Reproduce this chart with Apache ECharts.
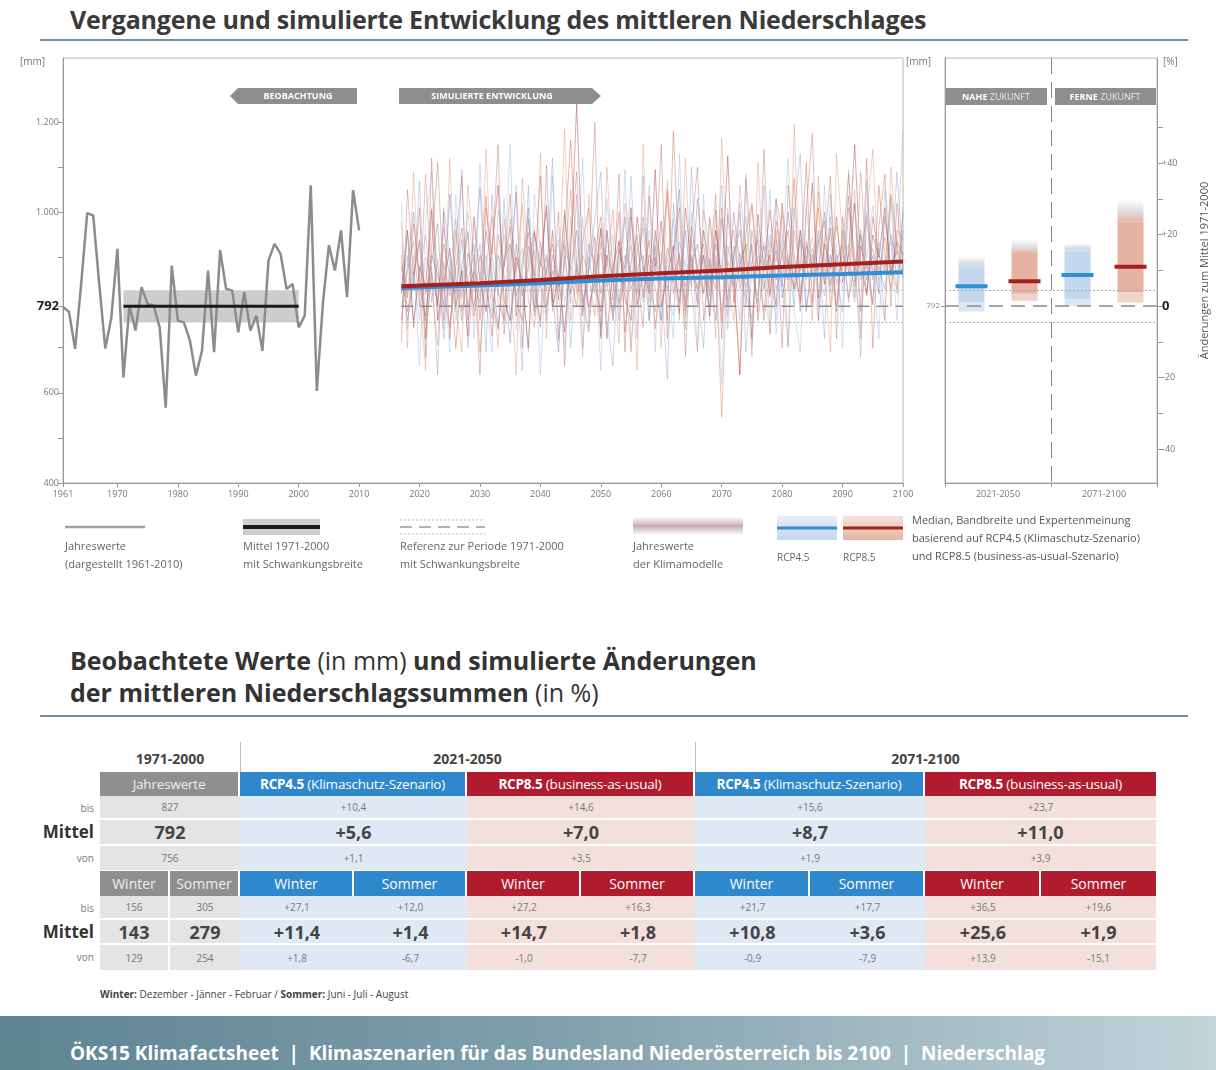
<!DOCTYPE html>
<html>
<head>
<meta charset="utf-8">
<script src="https://cdn.jsdelivr.net/npm/echarts@6/dist/echarts.min.js"></script>
<style>
  body{margin:0;width:1216px;height:1070px;position:relative;background:#fff;font-family:'Open Sans',Lato,sans-serif;color:#333;overflow:hidden}
  #chart{position:absolute;left:0;top:0;width:1216px;height:600px}
  .title1{position:absolute;left:70px;top:2px;font-size:25px;font-weight:bold;color:#3a3a3a;white-space:nowrap;letter-spacing:-0.2px}
  .rule{position:absolute;left:40px;width:1148px;height:2px;background:#71909f}
  .title2{position:absolute;left:70px;top:644px;font-size:25px;line-height:32px;font-weight:bold;color:#333;white-space:nowrap}
  .title2 span{font-weight:normal}
  .cell{position:absolute;display:flex;align-items:center;justify-content:center;box-sizing:border-box;white-space:nowrap}
  .lab{position:absolute;text-align:right;width:70px;left:24px;white-space:nowrap}
  .note{position:absolute;left:100px;top:987px;font-size:10px;color:#444}
  .footer{position:absolute;left:0;top:1016px;width:1216px;height:54px;background:linear-gradient(90deg,#5e8494 0%,#7f9fac 45%,#a9c0c9 80%,#c3d4da 100%)}
  .footer div{position:absolute;left:70px;top:24px;font-size:19px;font-weight:bold;color:#fff;white-space:nowrap}
</style>
</head>
<body>
<div class="title1">Vergangene und simulierte Entwicklung des mittleren Niederschlages</div>
<div class="rule" style="top:39px"></div>
<div id="chart"></div>
<div class="title2">Beobachtete Werte <span>(in mm)</span> und simulierte Änderungen<br>der mittleren Niederschlagssummen <span>(in %)</span></div>
<div class="rule" style="top:715px"></div>
<div id="table"></div>
<div class="note"><b>Winter:</b> Dezember - Jänner - Februar / <b>Sommer:</b> Juni - Juli - August</div>
<div class="footer"><div>ÖKS15 Klimafactsheet&nbsp; | &nbsp;Klimaszenarien für das Bundesland Niederösterreich bis 2100&nbsp; | &nbsp;Niederschlag</div></div>
<script>
// Beobachtung 1961-2010 [mm]
var obsStart = 1961;
var obsValues = [790,779,697,840,998,993,840,698,767,919,634,793,738,834,797,793,745,567,882,760,
  756,716,638,693,871,690,916,830,827,734,823,738,771,693,893,930,908,830,841,745,
  771,1060,604,797,927,871,960,812,1049,960];

// Referenz 1971-2000
var refPeriod = [1971, 2000];
var refMean = 792, refLow = 756, refHigh = 827;

// Klimamodelle 2017-2100 [mm]
var simStart = 2017, simEnd = 2100;
var rcp85Runs = [
  [905,780,842,1010,720,868,795,930,860,698,882,955,770,845,1035,812,740,890,968,805,
   760,925,858,1080,790,870,835,945,1160,880,812,735,905,990,842,768,920,875,1010,795,
   860,938,742,885,1050,820,905,790,968,875,930,815,1005,758,890,862,640,955,1020,870,
   925,812,980,905,850,1075,798,935,880,1010,842,965,790,918,1085,870,950,815,990,905,
   870,1040,925,880],
  [820,960,745,880,835,1005,760,845,920,790,870,725,990,850,780,925,1060,805,760,900,
   845,700,955,880,1015,790,860,735,910,1240,870,790,845,965,720,880,935,810,760,990,
   875,820,1095,790,860,925,775,1010,880,830,905,770,960,850,1125,800,885,930,720,995,
   870,905,790,1020,885,830,960,875,1065,810,930,875,990,845,905,1150,880,820,950,900,
   1010,860,935,905],
  [760,870,935,790,1085,840,705,890,815,960,780,850,905,690,875,990,830,760,925,870,
   1020,805,745,890,830,960,715,885,1050,820,905,860,770,935,880,1005,795,850,690,910,
   965,830,780,890,1040,845,910,770,935,875,820,990,880,545,905,960,830,895,1015,865,
   780,935,890,1000,825,960,870,905,790,1045,900,835,970,880,930,810,1090,875,920,860,
   945,880,830,1000],
  [890,810,975,860,760,920,1110,830,745,880,965,840,790,905,860,725,950,880,1040,770,
   895,955,830,760,870,930,805,995,860,790,935,1010,840,780,905,860,1000,735,890,950,
   810,905,870,980,760,1180,880,835,900,795,960,880,830,1010,790,905,960,850,930,760,
   885,1005,850,905,960,830,875,1110,800,935,980,790,905,870,1035,845,925,880,795,1060,
   905,830,960,940],
  [980,700,1090,820,650,1010,880,740,1120,790,690,1060,905,760,1140,830,700,985,870,640,
   1075,900,780,1130,720,960,835,1185,760,890,680,1040,910,745,1100,860,710,1020,935,650,
   1150,800,955,700,1070,880,760,1120,830,690,1005,915,720,1165,840,760,1060,905,680,1110,
   850,730,1030,960,705,1195,820,900,760,1080,875,690,1130,940,800,1050,720,985,1140,830,
   760,1100,905,1180],
  [710,1050,860,940,680,1120,790,1000,720,930,1080,760,870,640,1010,905,1150,730,880,1045,
   700,985,860,745,1105,800,1000,660,935,1090,780,870,1200,720,960,805,1085,690,990,870,
   745,1035,880,1150,720,905,1010,680,965,1100,760,880,1040,720,995,860,640,1075,905,780,
   1140,820,960,700,1060,905,780,1010,1175,760,930,1080,720,990,865,1020,780,1120,700,965,
   1085,790,1020,870]
];
var rcp45Runs = [
  [840,905,760,870,950,800,895,720,860,985,810,880,930,765,850,900,815,1030,760,875,
   920,835,790,890,1005,780,860,940,700,885,835,900,820,960,870,780,915,850,1080,795,
   880,830,925,760,895,985,820,870,905,800,960,845,890,780,925,870,1000,820,765,905,
   880,950,830,870,905,790,960,850,920,870,815,990,880,830,905,1020,850,890,800,935,
   880,860,1090,890],
  [790,880,1000,835,770,905,860,795,1040,850,760,910,845,800,960,870,745,890,930,815,
   860,1010,770,845,905,820,690,925,875,960,800,870,945,820,905,760,880,990,830,875,
   905,760,960,870,830,905,1050,780,880,930,820,895,760,985,870,835,910,795,960,880,
   830,905,1030,810,895,860,940,780,905,870,1000,840,890,930,810,880,960,850,905,820,
   990,870,915,855],
  [880,760,850,935,820,890,975,760,870,820,940,790,880,1055,830,765,905,860,710,930,
   815,880,960,840,775,905,850,1005,820,875,770,930,885,725,960,845,800,905,870,820,
   990,880,835,760,920,875,800,960,835,1030,870,790,930,865,805,1000,880,835,890,940,
   760,870,915,835,1000,880,805,925,860,960,840,905,780,960,885,835,910,990,860,880,
   830,950,890,870],
  [930,820,870,760,900,850,800,965,880,760,845,1000,880,815,905,780,870,950,830,1060,
   790,870,915,640,905,860,940,800,880,835,990,770,880,910,835,950,760,880,925,845,
   800,960,880,910,830,770,935,880,1000,850,905,830,960,880,770,925,845,990,860,815,
   935,880,760,950,870,1010,830,890,945,790,880,960,840,905,870,800,950,900,1015,850,
   880,935,860,1000],
  [1020,740,905,660,980,1090,760,880,690,1040,830,960,720,1110,800,690,1005,880,1150,740,
   860,690,1040,920,760,1080,820,700,990,860,1120,745,905,650,1030,880,760,1095,700,935,
   815,1060,690,980,860,720,1130,805,945,690,1040,760,905,620,1010,880,760,1085,700,960,
   830,1050,730,900,1120,780,690,1010,870,760,1060,820,930,700,1095,860,740,1000,880,720,
   1050,940,760,1010],
  [760,960,830,1070,720,880,640,1010,905,780,1095,700,860,930,690,1040,800,760,985,880,
   650,1060,780,935,860,1120,720,905,800,1040,700,880,985,1090,760,660,940,830,1010,720,
   1080,760,900,850,630,1020,880,740,1100,820,700,985,860,1060,740,905,1020,690,880,800,
   1060,730,940,860,700,1000,1130,790,880,940,720,1040,860,780,1010,905,680,1070,850,920,
   760,1030,820,960]
];

// Median RCP4.5 / RCP8.5 [mm]
var medYears = [2017, 2030, 2040, 2050, 2060, 2070, 2080, 2090, 2100];
var med45 = [832, 838, 843, 849, 853, 856, 860, 863, 867];
var med85 = [836, 843, 850, 858, 865, 871, 879, 885, 891];

// Änderungen [%] nahe / ferne Zukunft
var barLabels = ['RCP4.5 2021-2050', 'RCP8.5 2021-2050', 'RCP4.5 2071-2100', 'RCP8.5 2071-2100'];
var futurePeriods = ['2021-2050', '2071-2100'];
var chgMedian = [5.6, 7.0, 8.7, 11.0];
var chgLow = [1.1, 3.5, 1.9, 3.9];
var chgHigh = [10.4, 14.6, 15.6, 23.7];
var expertLow = [-1.5, 1.5, 0.0, 1.0];
var expertHigh = [14.0, 19.0, 17.5, 30.0];

// Tabelle
var tablePeriods = ['1971-2000', '2021-2050', '2071-2100'];
var annualBis = ['827', '+10,4', '+14,6', '+15,6', '+23,7'];
var annualMittel = ['792', '+5,6', '+7,0', '+8,7', '+11,0'];
var annualVon = ['756', '+1,1', '+3,5', '+1,9', '+3,9'];
var seasonBis = ['156', '305', '+27,1', '+12,0', '+27,2', '+16,3', '+21,7', '+17,7', '+36,5', '+19,6'];
var seasonMittel = ['143', '279', '+11,4', '+1,4', '+14,7', '+1,8', '+10,8', '+3,6', '+25,6', '+1,9'];
var seasonVon = ['129', '254', '+1,8', '-6,7', '-1,0', '-7,7', '-0,9', '-7,9', '+13,9', '-15,1'];

var xTicks = [1961, 1970, 1980, 1990, 2000, 2010, 2020, 2030, 2040, 2050, 2060, 2070, 2080, 2090, 2100];

var FONT = "'Open Sans', sans-serif";
var blue = {med: '#2f8fd6', band: '#c3d7ee', light: '#dbe6f3', fade: '#c3d7ee'};
var red = {med: '#a3201f', band: '#e6b3a2', light: '#f0d3c9', fade: '#e6b3a2'};

function toPairs(start, arr) {
  return arr.map(function (v, i) { return [start + i, v]; });
}
function pct(mm) { return (mm - refMean) / refMean * 100; }
var yMin = 400, yMax = 1342;

var runColors85 = ['rgba(214,125,95,0.6)', 'rgba(170,60,60,0.5)', 'rgba(226,150,120,0.6)', 'rgba(200,105,85,0.5)', 'rgba(220,140,110,0.45)', 'rgba(180,80,75,0.4)'];
var runColors45 = ['rgba(140,175,220,0.55)', 'rgba(110,130,190,0.5)', 'rgba(125,110,165,0.45)', 'rgba(165,195,230,0.6)', 'rgba(150,180,225,0.45)', 'rgba(120,140,195,0.4)'];

var series = [];
// Schwankungsbreite 1971-2000
series.push({
  type: 'line', xAxisIndex: 0, yAxisIndex: 0, data: [], silent: true,
  markArea: {silent: true, itemStyle: {color: '#cdcdcd'},
    data: [[{xAxis: refPeriod[0], yAxis: refLow}, {xAxis: refPeriod[1], yAxis: refHigh}]]}
});
series.push({
  type: 'line', xAxisIndex: 0, yAxisIndex: 0, data: toPairs(obsStart, obsValues),
  symbol: 'none', lineStyle: {color: '#8c8c8c', width: 2.5}, z: 3
});
series.push({
  type: 'line', xAxisIndex: 0, yAxisIndex: 0, data: [[refPeriod[0], refMean], [refPeriod[1], refMean]],
  symbol: 'none', lineStyle: {color: '#1a1a1a', width: 3}, z: 4
});
// Referenz im Simulationszeitraum
[[refMean, 'dashed'], [refHigh, 'dotted'], [refLow, 'dotted']].forEach(function (r) {
  series.push({
    type: 'line', xAxisIndex: 0, yAxisIndex: 0, data: [[simStart, r[0]], [simEnd, r[0]]], symbol: 'none',
    lineStyle: {color: r[1] === 'dashed' ? '#8a8a8a' : '#aaa', width: r[1] === 'dashed' ? 1.5 : 1,
      type: r[1] === 'dashed' ? [12, 7] : [2, 2]}, z: 2
  });
});
rcp45Runs.forEach(function (run, k) {
  series.push({type: 'line', xAxisIndex: 0, yAxisIndex: 0, data: toPairs(simStart, run), symbol: 'none',
    lineStyle: {color: runColors45[k], width: 0.9}, z: 2});
});
rcp85Runs.forEach(function (run, k) {
  series.push({type: 'line', xAxisIndex: 0, yAxisIndex: 0, data: toPairs(simStart, run), symbol: 'none',
    lineStyle: {color: runColors85[k], width: 0.9}, z: 2});
});
series.push({type: 'line', xAxisIndex: 0, yAxisIndex: 0, symbol: 'none', z: 5,
  data: medYears.map(function (y, i) { return [y, med45[i]]; }), lineStyle: {color: blue.med, width: 4}});
series.push({type: 'line', xAxisIndex: 0, yAxisIndex: 0, symbol: 'none', z: 5,
  data: medYears.map(function (y, i) { return [y, med85[i]]; }), lineStyle: {color: red.med, width: 4}});

// rechtes Panel
series.push({
  type: 'custom', xAxisIndex: 1, yAxisIndex: 2, silent: true, z: 3,
  data: chgMedian.map(function (m, i) { return [i, m, chgLow[i], chgHigh[i], expertLow[i], expertHigh[i]]; }),
  renderItem: function (params, api) {
    var i = api.value(0);
    var x = api.coord([i, 0])[0];
    var y = function (v) { return api.coord([i, v])[1]; };
    var c = i % 2 === 0 ? blue : red;
    var bw = 26, mw = 32;
    return {type: 'group', children: [
      {type: 'rect', shape: {x: x - bw / 2, y: y(api.value(5)), width: bw, height: y(api.value(3)) - y(api.value(5))},
        style: {fill: new echarts.graphic.LinearGradient(0, 0, 0, 1, [{offset: 0, color: 'rgba(215,215,215,0)'}, {offset: 0.5, color: 'rgba(205,205,210,0.6)'}, {offset: 1, color: c.fade}])}},
      {type: 'rect', shape: {x: x - bw / 2, y: y(api.value(2)), width: bw, height: y(api.value(4)) - y(api.value(2))},
        style: {fill: c.light}},
      {type: 'rect', shape: {x: x - bw / 2, y: y(api.value(3)), width: bw, height: y(api.value(2)) - y(api.value(3))},
        style: {fill: c.band}},
      {type: 'rect', shape: {x: x - mw / 2, y: y(api.value(1)) - 2, width: mw, height: 4}, style: {fill: c.med}}
    ]};
  },
  markLine: {silent: true, symbol: 'none', label: {show: false},
    data: [
      {yAxis: 0, lineStyle: {color: '#8a8a8a', width: 1.5, type: [14, 8]}},
      {yAxis: pct(refHigh), lineStyle: {color: '#aaa', width: 1, type: [2, 2]}},
      {yAxis: pct(refLow), lineStyle: {color: '#aaa', width: 1, type: [2, 2]}}
    ]}
});

var labelGrey = {color: '#777', fontSize: 9};
var graphics = [];
function txt(x, y, s, extra) {
  var st = {text: s, fill: '#555', fontSize: 11, fontFamily: FONT};
  for (var k in extra) st[k] = extra[k];
  graphics.push({type: 'text', x: x, y: y, style: st, silent: true});
}
// Banner
graphics.push({type: 'polygon', shape: {points: [[230, 96], [238, 88], [357, 88], [357, 104], [238, 104]]}, style: {fill: '#8e8e8e'}});
txt(298, 96, 'BEOBACHTUNG', {fill: '#fff', fontSize: 9, fontWeight: 'bold', align: 'center', verticalAlign: 'middle'});
graphics.push({type: 'polygon', shape: {points: [[399, 88], [592, 88], [601, 96], [592, 104], [399, 104]]}, style: {fill: '#8e8e8e'}});
txt(492, 96, 'SIMULIERTE ENTWICKLUNG', {fill: '#fff', fontSize: 9, fontWeight: 'bold', align: 'center', verticalAlign: 'middle'});
graphics.push({type: 'rect', shape: {x: 946, y: 88, width: 101, height: 17}, style: {fill: '#8e8e8e'}});
graphics.push({type: 'rect', shape: {x: 1055, y: 88, width: 101, height: 17}, style: {fill: '#8e8e8e'}});
graphics.push({type: 'text', x: 996, y: 97, silent: true, style: {text: '{b|NAHE} ZUKUNFT', align: 'center', verticalAlign: 'middle', fill: '#e8e8e8', fontSize: 9, fontFamily: FONT, rich: {b: {fontWeight: 'bold', fill: '#fff', fontSize: 9, fontFamily: FONT}}}});
graphics.push({type: 'text', x: 1105, y: 97, silent: true, style: {text: '{b|FERNE} ZUKUNFT', align: 'center', verticalAlign: 'middle', fill: '#e8e8e8', fontSize: 9, fontFamily: FONT, rich: {b: {fontWeight: 'bold', fill: '#fff', fontSize: 9, fontFamily: FONT}}}});
// Einheiten
txt(20, 57, '[mm]', {fill: '#777', fontSize: 10});
txt(906, 57, '[mm]', {fill: '#777', fontSize: 10});
txt(1163, 57, '[%]', {fill: '#777', fontSize: 10});
// Legende
graphics.push({type: 'line', shape: {x1: 65, y1: 527, x2: 145, y2: 527}, style: {stroke: '#a0a0a0', lineWidth: 2.5}});
txt(65, 538, 'Jahreswerte\n(dargestellt 1961-2010)', {lineHeight: 18, fill: '#666'});
graphics.push({type: 'rect', shape: {x: 243, y: 519, width: 77, height: 16}, style: {fill: '#cdcdcd'}});
graphics.push({type: 'line', shape: {x1: 243, y1: 527, x2: 320, y2: 527}, style: {stroke: '#1a1a1a', lineWidth: 4}});
txt(243, 538, 'Mittel 1971-2000\nmit Schwankungsbreite', {lineHeight: 18, fill: '#666'});
graphics.push({type: 'line', shape: {x1: 400, y1: 520, x2: 485, y2: 520}, style: {stroke: '#bbb', lineWidth: 1, lineDash: [2, 2]}});
graphics.push({type: 'line', shape: {x1: 400, y1: 527, x2: 485, y2: 527}, style: {stroke: '#999', lineWidth: 1.5, lineDash: [12, 7]}});
graphics.push({type: 'line', shape: {x1: 400, y1: 534, x2: 485, y2: 534}, style: {stroke: '#bbb', lineWidth: 1, lineDash: [2, 2]}});
txt(400, 538, 'Referenz zur Periode 1971-2000\nmit Schwankungsbreite', {lineHeight: 18, fill: '#666'});
graphics.push({type: 'rect', shape: {x: 633, y: 518, width: 110, height: 16}, style: {fill: new echarts.graphic.LinearGradient(0, 0, 0, 1, [{offset: 0, color: 'rgba(200,170,185,0.2)'}, {offset: 0.5, color: 'rgba(175,130,155,0.7)'}, {offset: 1, color: 'rgba(200,170,185,0.2)'}])}});
txt(633, 538, 'Jahreswerte\nder Klimamodelle', {lineHeight: 18, fill: '#666'});
graphics.push({type: 'rect', shape: {x: 777, y: 516, width: 60, height: 24}, style: {fill: new echarts.graphic.LinearGradient(0, 0, 0, 1, [{offset: 0, color: '#e8eef6'}, {offset: 1, color: blue.band}])}});
graphics.push({type: 'line', shape: {x1: 777, y1: 528, x2: 837, y2: 528}, style: {stroke: blue.med, lineWidth: 3}});
graphics.push({type: 'rect', shape: {x: 843, y: 516, width: 60, height: 24}, style: {fill: new echarts.graphic.LinearGradient(0, 0, 0, 1, [{offset: 0, color: '#f3e2dc'}, {offset: 1, color: red.band}])}});
graphics.push({type: 'line', shape: {x1: 843, y1: 528, x2: 903, y2: 528}, style: {stroke: red.med, lineWidth: 3}});
txt(777, 553, 'RCP4.5', {fill: '#666', fontSize: 10});
txt(843, 553, 'RCP8.5', {fill: '#666', fontSize: 10});
txt(912, 512, 'Median, Bandbreite und Expertenmeinung\nbasierend auf RCP4.5 (Klimaschutz-Szenario)\nund RCP8.5 (business-as-usual-Szenario)', {lineHeight: 18, fill: '#555'});

var chart = echarts.init(document.getElementById('chart'));
chart.setOption({
  animation: false,
  textStyle: {fontFamily: FONT},
  grid: [
    {left: 63, top: 58, width: 840, height: 425, show: true, borderColor: '#b8b8b8', borderWidth: 1},
    {left: 945, top: 58, width: 212, height: 425, show: true, borderColor: '#b8b8b8', borderWidth: 1}
  ],
  xAxis: [
    {gridIndex: 0, type: 'value', min: 1961, max: 2100, splitLine: {show: false},
      axisLine: {lineStyle: {color: '#999'}},
      axisTick: {customValues: xTicks, length: 4, lineStyle: {color: '#999'}},
      axisLabel: Object.assign({customValues: xTicks, margin: 7, formatter: function (v) { return String(v); }}, labelGrey)},
    {gridIndex: 1, type: 'category', data: barLabels, show: false, position: 'bottom'},
    {gridIndex: 1, type: 'category', data: futurePeriods, position: 'bottom', offset: 0,
      axisLine: {lineStyle: {color: '#999'}},
      axisTick: {show: true, length: 4, lineStyle: {color: '#999'}},
      axisLabel: Object.assign({margin: 7}, labelGrey),
      splitLine: {show: true, lineStyle: {color: '#8a8a8a', width: 1, type: [16, 8]}}}
  ],
  yAxis: [
    {gridIndex: 0, type: 'value', min: yMin, max: yMax, splitLine: {show: false},
      axisLine: {show: true, lineStyle: {color: '#999'}},
      axisTick: {show: true, length: 5, customValues: [400, 500, 600, 700, 792, 900, 1000, 1100, 1200], lineStyle: {color: '#999'}},
      axisLabel: {customValues: [400, 600, 792, 1000, 1200], margin: 4, color: '#777', fontSize: 9,
        formatter: function (v) {
          if (v === refMean) return '{m|' + v + '}';
          return String(v).replace(/(\d)(\d{3})$/, '$1.$2');
        },
        rich: {m: {fontSize: 13, fontWeight: 'bold', color: '#222'}}}},
    {gridIndex: 1, type: 'value', min: yMin, max: yMax, position: 'left', splitLine: {show: false},
      axisLine: {show: true, lineStyle: {color: '#999'}},
      axisTick: {show: true, length: 4, customValues: [refMean], lineStyle: {color: '#999'}},
      axisLabel: {customValues: [refMean], color: '#888', fontSize: 8, margin: 5}},
    {gridIndex: 1, type: 'value', min: pct(yMin), max: pct(yMax), position: 'right', splitLine: {show: false},
      axisLine: {show: true, lineStyle: {color: '#999'}},
      axisTick: {show: true, length: 6, customValues: [-40, -30, -20, -10, 0, 10, 20, 30, 40, 50], lineStyle: {color: '#999'}},
      axisLabel: {customValues: [-40, -20, 0, 20, 40], margin: 5, color: '#777', fontSize: 9,
        formatter: function (v) {
          if (v === 0) return '{z|0}';
          return (v > 0 ? '+' : '') + v;
        },
        rich: {z: {fontSize: 13, fontWeight: 'bold', color: '#222'}}},
      name: 'Änderungen zum Mittel 1971-2000', nameLocation: 'middle', nameRotate: 90, nameGap: 42,
      nameTextStyle: {color: '#555', fontSize: 11}}
  ],
  series: series,
  graphic: graphics
});

// Tabelle
var colX = [100, 170, 240, 354, 467, 581, 695, 810, 925, 1041, 1156];
var groupHead = ['#8f8f8f', '#2f87cc', '#b01c2e', '#2f87cc', '#b01c2e'];
var groupBg = ['#e4e4e4', '#dfe9f5', '#f4e0da', '#dfe9f5', '#f4e0da'];
var scenNames = ['Jahreswerte', '<b>RCP4.5</b> (Klimaschutz-Szenario)', '<b>RCP8.5</b> (business-as-usual)',
  '<b>RCP4.5</b> (Klimaschutz-Szenario)', '<b>RCP8.5</b> (business-as-usual)'];
var seasons = ['Winter', 'Sommer'];
var html = '';
function cell(x1, x2, top, h, content, css) {
  html += '<div class="cell" style="left:' + x1 + 'px;top:' + top + 'px;width:' + (x2 - x1) + 'px;height:' + h + 'px;' + css + '"><span>' + content + '</span></div>';
}
// Perioden
cell(colX[0], colX[2], 745, 26, tablePeriods[0], 'font-weight:bold;font-size:14px;color:#444');
cell(colX[2], colX[6], 745, 26, tablePeriods[1], 'font-weight:bold;font-size:14px;color:#444');
cell(colX[6], colX[10], 745, 26, tablePeriods[2], 'font-weight:bold;font-size:14px;color:#444');
html += '<div style="position:absolute;left:240px;top:742px;width:1px;height:30px;background:#bbb"></div>';
html += '<div style="position:absolute;left:695px;top:742px;width:1px;height:30px;background:#bbb"></div>';
var annualRows = [[annualBis, 796, 24, 'font-size:10px;color:#777'], [annualMittel, 820, 26, 'font-size:18px;font-weight:bold;color:#444'], [annualVon, 846, 24, 'font-size:10px;color:#777']];
var seasonRows = [[seasonBis, 896, 24, 'font-size:10px;color:#777'], [seasonMittel, 920, 25, 'font-size:18px;font-weight:bold;color:#444'], [seasonVon, 945, 25, 'font-size:10px;color:#777']];
for (var g = 0; g < 5; g++) {
  var a = colX[2 * g], b = colX[2 * g + 2];
  cell(a, b, 772, 24, scenNames[g], 'background:' + groupHead[g] + ';color:' + (g === 0 ? '#eee' : '#fff') + ';font-size:13.5px;letter-spacing:-0.2px;border-right:' + (g < 4 ? '2px solid #fff' : '0'));
  annualRows.forEach(function (r, k) {
    cell(a, b, r[1], r[2], r[0][g], 'background:' + groupBg[g] + ';' + r[3] + ';border-bottom:' + (k < 2 ? '2px solid #fff' : '0'));
  });
  for (var s = 0; s < 2; s++) {
    var c1 = colX[2 * g + s], c2 = colX[2 * g + s + 1];
    var br = (s === 0 || g < 4) ? '2px solid #fff' : '0';
    cell(c1, c2, 871, 25, seasons[s], 'background:' + groupHead[g] + ';color:' + (g === 0 ? '#eee' : '#fff') + ';font-size:14px;border-right:' + br);
    seasonRows.forEach(function (r, k) {
      cell(c1, c2, r[1], r[2], r[0][2 * g + s], 'background:' + groupBg[g] + ';' + r[3] + ';border-bottom:' + (k < 2 ? '2px solid #fff' : '0') + ';border-right:' + (g === 0 && s === 0 ? '2px solid #fff' : '0'));
    });
  }
}
html += '<div class="lab" style="top:801px;font-size:10px;color:#777">bis</div>';
html += '<div class="lab" style="top:820px;font-size:17px;font-weight:bold;color:#333">Mittel</div>';
html += '<div class="lab" style="top:851px;font-size:10px;color:#777">von</div>';
html += '<div class="lab" style="top:901px;font-size:10px;color:#777">bis</div>';
html += '<div class="lab" style="top:920px;font-size:17px;font-weight:bold;color:#333">Mittel</div>';
html += '<div class="lab" style="top:950px;font-size:10px;color:#777">von</div>';
document.getElementById('table').innerHTML = html;
</script>
</body>
</html>
